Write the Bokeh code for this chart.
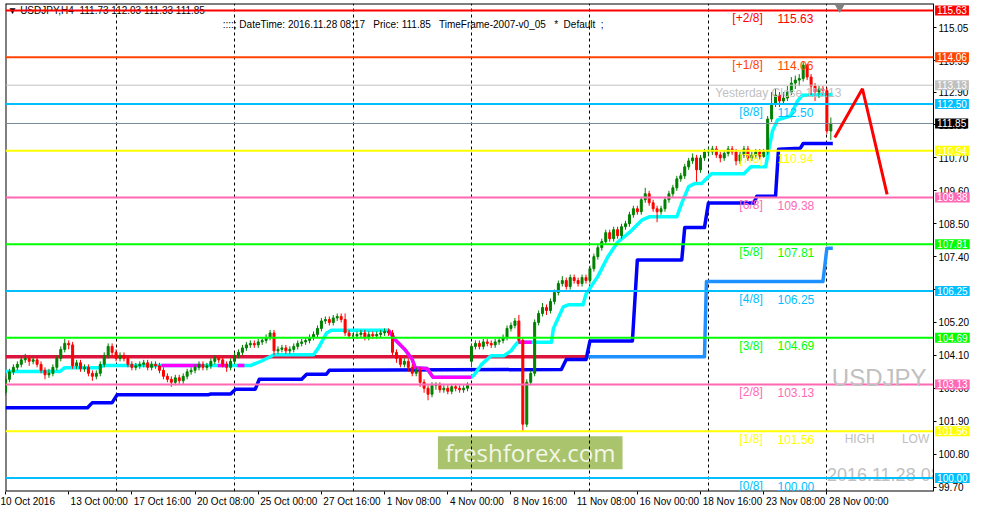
from bokeh.plotting import figure
from bokeh.models import (ColumnDataSource, FixedTicker, Range1d, Label, PrintfTickFormatter,
                          LinearAxis)
from bokeh.embed import file_html
from bokeh.resources import INLINE
from bokeh.core.properties import value

# ---------------- data ----------------
# H4 bars, index 2 = 10 Oct 2016 08:00 (index counts 4h trading bars)
opens = [
102.85,103.30,103.55,103.70,103.80,103.95,104.00,103.90,103.95,103.80,
103.60,103.45,103.50,103.70,104.00,104.30,104.50,104.45,103.75,103.85,
103.65,103.70,103.50,103.40,103.50,103.80,104.10,104.40,104.20,104.00,
104.10,104.00,103.80,103.70,103.75,103.80,103.85,103.70,103.80,103.75,
103.60,103.40,103.30,103.20,103.35,103.25,103.40,103.55,103.60,103.70,
103.80,103.70,103.75,103.90,104.00,103.95,103.80,103.70,103.90,104.10,
104.20,104.35,104.45,104.50,104.45,104.55,104.60,104.70,104.85,104.25,
104.30,104.35,104.25,104.30,104.40,104.50,104.55,104.60,104.70,104.80,
105.00,105.25,105.30,105.20,105.35,105.40,105.30,104.85,104.75,104.75,
104.80,104.85,104.70,104.80,104.75,104.80,104.85,104.90,104.85,104.20,
104.00,103.80,103.90,103.70,103.50,103.60,103.20,103.00,102.80,103.10,
103.10,102.95,103.00,102.90,103.05,103.00,102.95,103.00,103.90,104.40,
104.50,104.40,104.55,104.50,104.45,104.55,104.60,104.70,105.00,105.10,
105.25,104.60,101.80,103.20,103.50,105.20,105.50,105.70,105.60,105.90,
106.20,106.50,106.60,106.40,106.70,106.60,106.50,106.70,106.60,107.00,
107.40,107.70,107.90,108.20,108.00,108.30,108.10,108.40,108.50,108.80,
109.00,108.90,109.30,109.50,109.20,109.00,108.90,109.00,109.30,109.50,
109.70,110.00,110.10,110.40,110.60,110.70,110.30,110.70,110.90,110.90,
111.00,110.80,110.70,110.85,111.00,110.90,110.60,110.80,111.00,110.70,
110.80,110.90,110.75,110.90,112.00,112.50,112.80,112.60,112.70,112.90,
113.20,113.30,113.35,113.80,113.40,113.10,112.90,113.00,112.95,111.60]
highs = [
103.40,103.65,103.80,103.90,104.05,104.15,104.10,104.05,104.05,103.90,
103.70,103.65,103.80,104.10,104.40,104.65,104.60,104.55,103.95,103.95,
103.80,103.80,103.60,103.60,103.90,104.20,104.50,104.50,104.30,104.20,
104.20,104.10,103.90,103.85,103.90,103.95,103.95,103.90,103.90,103.85,
103.70,103.50,103.40,103.45,103.45,103.50,103.65,103.70,103.80,103.90,
103.90,103.85,104.00,104.10,104.10,104.05,103.90,104.00,104.20,104.30,
104.45,104.55,104.60,104.60,104.65,104.70,104.80,104.95,104.95,104.40,
104.45,104.45,104.40,104.50,104.60,104.65,104.70,104.80,104.90,105.10,
105.35,105.40,105.40,105.45,105.50,105.50,105.50,104.95,104.85,104.90,
104.95,104.95,104.90,104.90,104.90,104.95,105.00,105.00,104.95,104.30,
104.10,104.00,104.00,103.80,103.70,103.70,103.30,103.10,103.20,103.20,
103.20,103.10,103.10,103.15,103.15,103.10,103.10,103.20,104.50,104.60,
104.60,104.65,104.65,104.60,104.65,104.70,104.80,105.10,105.20,105.35,
105.45,104.70,103.30,103.60,105.30,105.60,105.85,105.80,106.00,106.30,
106.60,106.75,106.70,106.80,106.80,106.70,106.80,106.80,107.10,107.50,
107.80,108.00,108.30,108.30,108.40,108.40,108.50,108.60,108.90,109.10,
109.10,109.40,109.70,109.60,109.30,109.10,109.10,109.40,109.60,109.80,
110.10,110.20,110.50,110.70,110.85,110.80,110.80,111.00,111.05,111.10,
111.10,110.90,110.95,111.10,111.10,111.00,110.90,111.10,111.10,110.90,
111.00,111.00,111.00,112.10,112.90,113.00,112.90,112.90,113.10,113.40,
113.45,113.50,113.90,113.85,113.50,113.20,113.10,113.10,113.05,112.05]
lows = [
102.75,103.20,103.45,103.60,103.70,103.85,103.75,103.80,103.70,103.50,
103.30,103.35,103.40,103.60,103.90,104.20,104.30,103.65,103.65,103.55,
103.55,103.40,103.25,103.30,103.40,103.70,104.00,104.05,103.90,103.90,
103.90,103.70,103.60,103.60,103.65,103.70,103.60,103.60,103.65,103.50,
103.30,103.20,103.05,103.10,103.15,103.15,103.30,103.45,103.50,103.60,
103.60,103.60,103.65,103.80,103.85,103.70,103.55,103.60,103.80,104.00,
104.10,104.25,104.35,104.35,104.35,104.45,104.50,104.60,104.10,104.15,
104.20,104.15,104.15,104.20,104.30,104.40,104.45,104.50,104.60,104.70,
104.90,105.15,105.10,105.10,105.25,105.20,104.75,104.65,104.65,104.65,
104.70,104.60,104.60,104.65,104.65,104.70,104.75,104.75,104.10,103.85,
103.70,103.70,103.55,103.40,103.40,103.05,102.85,102.60,102.70,102.95,
102.85,102.85,102.80,102.80,102.90,102.85,102.85,102.90,103.70,104.30,
104.30,104.30,104.40,104.35,104.35,104.45,104.50,104.60,104.90,105.00,
104.50,101.55,101.70,103.10,103.40,105.10,105.40,105.45,105.50,105.80,
106.10,106.40,106.30,106.30,106.50,106.40,106.40,106.50,106.50,106.90,
107.30,107.60,107.80,107.90,107.90,108.00,108.00,108.30,108.40,108.70,
108.80,108.80,109.20,109.10,108.90,108.55,108.80,108.90,109.20,109.40,
109.60,109.90,110.00,110.30,110.50,109.90,110.20,110.60,110.75,110.80,
110.70,110.55,110.60,110.75,110.80,110.45,110.50,110.70,110.60,110.60,
110.70,110.65,110.70,110.80,111.90,112.40,112.40,112.50,112.60,112.80,
113.00,113.10,113.25,113.30,112.80,112.60,112.70,112.80,111.50,111.30]
closes = [
103.30,103.55,103.70,103.80,103.95,104.00,103.90,103.95,103.80,103.60,
103.45,103.50,103.70,104.00,104.30,104.50,104.45,103.75,103.85,103.65,
103.70,103.50,103.40,103.50,103.80,104.10,104.40,104.20,104.00,104.10,
104.00,103.80,103.70,103.75,103.80,103.85,103.70,103.80,103.75,103.60,
103.40,103.30,103.20,103.35,103.25,103.40,103.55,103.60,103.70,103.80,
103.70,103.75,103.90,104.00,103.95,103.80,103.70,103.90,104.10,104.20,
104.35,104.45,104.50,104.45,104.55,104.60,104.70,104.85,104.25,104.30,
104.35,104.25,104.30,104.40,104.50,104.55,104.60,104.70,104.80,105.00,
105.25,105.30,105.20,105.35,105.40,105.30,104.85,104.75,104.75,104.80,
104.85,104.70,104.80,104.75,104.80,104.85,104.90,104.85,104.20,104.00,
103.80,103.90,103.70,103.50,103.60,103.20,103.00,102.80,103.10,103.10,
102.95,103.00,102.90,103.05,103.00,102.95,103.00,103.10,104.40,104.50,
104.40,104.55,104.50,104.45,104.55,104.60,104.70,105.00,105.10,105.25,
104.60,101.80,103.20,103.50,105.20,105.50,105.70,105.60,105.90,106.20,
106.50,106.60,106.40,106.70,106.60,106.50,106.70,106.60,107.00,107.40,
107.70,107.90,108.20,108.00,108.30,108.10,108.40,108.50,108.80,109.00,
108.90,109.30,109.50,109.20,109.00,108.90,109.00,109.30,109.50,109.70,
110.00,110.10,110.40,110.60,110.70,110.30,110.70,110.90,110.90,111.00,
110.80,110.70,110.85,111.00,110.90,110.60,110.80,111.00,110.70,110.80,
110.90,110.75,110.90,112.00,112.50,112.80,112.60,112.70,112.90,113.20,
113.30,113.35,113.80,113.40,113.10,112.90,113.00,112.95,111.60,111.85]
bar_index = list(range(2, 2 + len(closes)))

xtick_bars = [2, 18, 34, 50, 66, 82, 98, 114, 130, 146, 162, 178, 194, 210]
xtick_labels = ["10 Oct 2016", "13 Oct 00:00", "17 Oct 16:00", "20 Oct 08:00", "25 Oct 00:00",
                "27 Oct 16:00", "1 Nov 08:00", "4 Nov 00:00", "8 Nov 16:00", "11 Nov 08:00",
                "16 Nov 00:00", "18 Nov 16:00", "23 Nov 08:00", "28 Nov 00:00"]
week_bars = [30, 60, 90, 120, 150, 180, 210]
ytick_vals = [99.70, 100.80, 101.90, 103.00, 104.10, 105.20, 106.30, 107.40, 108.50,
              109.60, 110.70, 111.80, 112.90, 113.95, 115.05]

level_prices = [115.63, 114.06, 112.50, 110.94, 109.38, 107.81, 106.25, 104.69, 103.13, 101.56, 100.00]
level_names = ["[+2/8]", "[+1/8]", "[8/8]", "[7/8]", "[6/8]", "[5/8]", "[4/8]", "[3/8]", "[2/8]", "[1/8]", "[0/8]"]
level_colors = ["#FF0000", "#FF4500", "#00BFFF", "#FFFF00", "#FF69B4", "#00FF00",
                "#00BFFF", "#00FF00", "#FF69B4", "#FFFF00", "#00BFFF"]
yesterday_close = 113.13
last_price = 111.85

cyan_x = [2, 15.75, 17, 25.75, 26.75, 64, 67, 70, 80, 81.25, 83.25, 84.5, 99, 100.75, 103.25,
          105, 105.75, 108.75, 110.25, 120, 120.75, 122.5, 125, 128.25, 130, 131.5, 132, 140.25,
          140.75, 143.25, 144.5, 148.25, 149, 152, 154.5, 157, 160, 163.25, 165, 172, 173.25, 175,
          176.5, 178.25, 180.75, 189, 190.75, 194.5, 195.25, 196.25, 197.5, 200.75, 202.5, 203.75, 211.5]
cyan_y = [103.56, 103.56, 103.69, 103.69, 103.76, 103.76, 103.92, 104.12, 104.12, 104.35, 104.84,
          104.94, 104.94, 104.61, 104.28, 103.96, 103.69, 103.66, 103.37, 103.37, 103.46, 103.79,
          104.09, 104.09, 104.25, 104.51, 104.54, 104.54, 105.00, 105.72, 105.79, 105.79, 106.15,
          106.74, 107.39, 107.88, 108.21, 108.63, 108.73, 108.73, 109.19, 109.74, 109.84, 109.84,
          110.17, 110.17, 110.40, 110.40, 110.95, 111.61, 111.97, 112.10, 112.59, 112.79, 112.82]
magenta_xs = [[41.5, 51.5], [55.75, 58.25], [60.75, 62.5],
              [99, 100.75, 103.25, 105, 105.75, 108.75, 110.25, 120], [132, 135.25]]
magenta_ys = [[103.76, 103.76], [103.76, 103.76], [103.76, 103.76],
              [104.94, 104.61, 104.28, 103.96, 103.69, 103.66, 103.37, 103.37], [104.54, 104.54]]
blue_x = [2, 22.75, 24, 29, 30.25, 53.25, 54, 59, 60.25, 65.25, 66.25, 77, 78.25, 83.25, 84,
          142.75, 144, 149, 150, 160.75, 162, 173.25, 174, 179, 180, 191.5, 192.25, 197, 197.75,
          203.25, 204, 211.5]
blue_y = [102.35, 102.35, 102.52, 102.52, 102.78, 102.78, 102.81, 102.81, 102.97, 102.97, 103.30,
          103.30, 103.47, 103.47, 103.60, 103.63, 103.96, 103.96, 104.58, 104.58, 107.29, 107.29,
          108.37, 108.37, 109.19, 109.19, 109.42, 109.42, 110.99, 111.02, 111.18, 111.18]
dodger_x = [149, 179, 179.5, 209, 210, 211.5]
dodger_y = [104.05, 104.05, 106.57, 106.57, 107.68, 107.68]
crimson_x = [2, 149]
crimson_y = [104.05, 104.05]
forecast_x = [212, 219, 225.25]
forecast_y = [111.38, 113.01, 109.48]

# ---------------- figure ----------------
FONT = "Liberation Sans"
X0, XAX, X1 = 2, 237, 246.62       # left edge, price-axis position, right edge (bars)
Y0, Y1 = 99.55, 115.86
p = figure(width=971, height=509, x_range=Range1d(X0, X1), y_range=Range1d(Y0, Y1),
           y_axis_location=None, output_backend="svg", toolbar_location=None,
           min_border_left=5, min_border_top=3, min_border_right=0, min_border_bottom=0,
           background_fill_color="white", border_fill_color="white", outline_line_color=None)

# x axis with left-aligned labels (padded with leading no-break spaces)
W = {d: 0.556 for d in "0123456789"}
W.update({" ": 0.278, ":": 0.278, "O": 0.778, "c": 0.5, "t": 0.278, "N": 0.722, "o": 0.556, "v": 0.5})
def padded(s, size=10.0):
    w = sum(W.get(ch, 0.55) for ch in s) * size
    n = int(round((w + 4) / (0.278 * size)))
    return "\u00a0" * n + s
overrides = {b: padded(s) for b, s in zip(xtick_bars, xtick_labels)}
overrides[xtick_bars[0]] = xtick_labels[0]
p.xaxis.ticker = FixedTicker(ticks=xtick_bars)
p.xaxis.major_label_overrides = overrides
p.xaxis.axis_line_color = None

yax = LinearAxis(fixed_location=XAX, ticker=FixedTicker(ticks=ytick_vals),
                 formatter=PrintfTickFormatter(format="%.2f"))
p.add_layout(yax, "right")
for ax in (p.xaxis[0], yax):
    ax.major_label_text_font = FONT
    ax.major_label_text_font_size = "10px"
    ax.major_label_text_color = "black"
    ax.major_tick_out = 3
    ax.major_tick_in = 0
    ax.minor_tick_out = 0
    ax.minor_tick_in = 0
    ax.major_tick_line_color = "black"
    ax.major_label_standoff = 2
yax.axis_line_color = "black"
p.xaxis.major_label_standoff = 1

p.xgrid.ticker = FixedTicker(ticks=week_bars)
p.xgrid.grid_line_color = "black"
p.xgrid.grid_line_dash = "3 3"
p.ygrid.visible = False

# texts that sit behind the price-axis strip
p.text(x=[210], y=[100.1], text=["2016.11.28 08:17"], text_color="#C0C0C0", text_font=value(FONT),
       text_font_size="18px", text_baseline="middle", level="underlay")
# watermark (background)
p.quad(left=[111.5], right=[158.25], top=[101.40], bottom=[100.29],
       fill_color="#A9C46C", line_color=None, level="image")
p.text(x=[134.9], y=[100.85], text=["freshforex.com"], text_font=value("Open Sans"),
       text_font_size="24px", text_color="#F3F6E8", text_align="center",
       text_baseline="middle", level="image")

# white price-axis strip and frame borders
p.quad(left=[XAX], right=[X1 + 1], top=[Y1 + 1], bottom=[Y0 - 1], fill_color="white", line_color=None)
p.segment(x0=[X0, X0, X0], y0=[Y0, Y1, Y0], x1=[XAX, XAX, X0], y1=[Y0, Y1, Y1],
          line_color="black", line_width=2)

# indicator lines
p.line(crimson_x, crimson_y, line_color="#DC143C", line_width=3.5)
p.line(dodger_x, dodger_y, line_color="#1E90FF", line_width=3.5, line_join="round")
p.line(blue_x, blue_y, line_color="#0000FF", line_width=3.5, line_join="round")
p.line(cyan_x, cyan_y, line_color="#00FFFF", line_width=3.5, line_join="round")
p.multi_line(magenta_xs, magenta_ys, line_color="#FF00FF", line_width=3.5, line_join="round")

# candles
src = ColumnDataSource(dict(
    x=bar_index, o=opens, h=highs, l=lows, c=closes,
    top=[max(a, b) for a, b in zip(opens, closes)],
    bottom=[min(a, b) for a, b in zip(opens, closes)],
    color=["#008000" if c >= o else "#FF0000" for o, c in zip(opens, closes)]))
p.segment(x0="x", y0="h", x1="x", y1="l", source=src, line_color="color", line_width=1)
p.vbar(x="x", width=0.5, top="top", bottom="bottom", source=src,
       fill_color="color", line_color="color", line_width=1)

# level lines
hl_y = level_prices + [yesterday_close, last_price]
hl_c = level_colors + ["#C0C0C0", "#778899"]
hl_w = [2] * len(level_prices) + [1, 1]
p.segment(x0=X0, x1=XAX, y0=hl_y, y1=hl_y, line_color=hl_c, line_width=hl_w)

lsrc = ColumnDataSource(dict(y=level_prices, name=level_names, col=level_colors,
                             price=["%.2f" % v for v in level_prices]))
p.text(x=193.75, y="y", text="name", source=lsrc, text_color="col", text_font=value(FONT),
       text_font_size="12px", text_align="right", text_baseline="middle", y_offset=8)
p.text(x=197.5, y="y", text="price", source=lsrc, text_color="col", text_font=value(FONT),
       text_font_size="12px", text_align="left", text_baseline="middle", y_offset=8)
p.text(x=[181.75], y=[yesterday_close], text=["Yesterday Close %.2f" % yesterday_close],
       text_color="#C0C0C0", text_font=value(FONT), text_font_size="12px",
       text_baseline="middle", y_offset=8)

# forecast arrow
p.line(forecast_x, forecast_y, line_color="#FF0000", line_width=3)

# other texts
p.text(x=[211.25], y=[103.37], text=["USDJPY"], text_color="#C0C0C0", text_font=value(FONT),
       text_font_size="24px", text_baseline="middle")
p.text(x=[214.5], y=[101.56], text=["HIGH"], text_color="#C0C0C0", text_font=value(FONT),
       text_font_size="12px", text_baseline="middle", y_offset=8)
p.text(x=[229.0], y=[101.56], text=["LOW"], text_color="#C0C0C0", text_font=value(FONT),
       text_font_size="12px", text_baseline="middle", y_offset=8)
p.text(x=[2.5], y=[115.63], text=["\u25BC USDJPY,H4\u00a0\u00a0111.73 112.03 111.33 111.85"],
       text_color="black", text_font=value(FONT), text_font_size="10px", text_baseline="middle",
       level="underlay")
p.text(x=[57], y=[115.17],
       text=["::::; DateTime: 2016.11.28 08:17\u00a0\u00a0 Price: 111.85\u00a0\u00a0 "
             "TimeFrame-2007-v0_05\u00a0\u00a0 *\u00a0 Default\u00a0 ;"],
       text_color="black", text_font=value(FONT), text_font_size="10px", text_baseline="middle")
p.scatter(x=[213.25], y=[115.76], marker="inverted_triangle", size=10,
          fill_color="#808080", line_color="#808080")

# right-side price boxes
for v, col in zip(hl_y, level_colors + ["#C0C0C0", "#000000"]):
    p.add_layout(Label(x=XAX + 0.4, y=v, text="%.2f" % v, text_color="white", text_font=FONT,
                       text_font_size="10px", text_align="left", text_baseline="middle",
                       background_fill_color=col, padding=dict(left=2, right=2, top=1, bottom=1)))

open("out.html", "w").write(file_html(p, INLINE))
